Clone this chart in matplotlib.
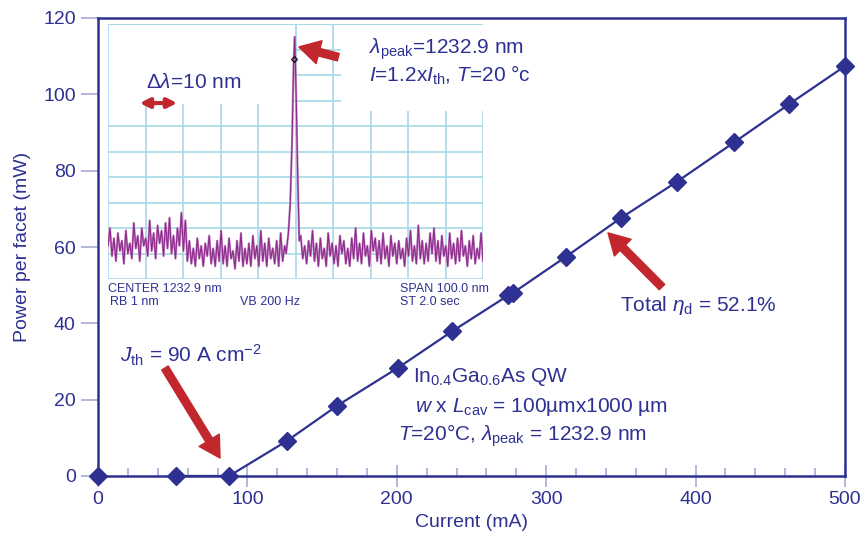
import numpy as np
import matplotlib.pyplot as plt
from matplotlib.patches import Rectangle

plt.rcParams['font.family'] = ['Liberation Sans', 'DejaVu Sans']
plt.rcParams['mathtext.fontset'] = 'custom'
plt.rcParams['mathtext.rm'] = 'Liberation Sans'
plt.rcParams['mathtext.it'] = 'Liberation Sans:italic'

NAVY = '#2e3192'
TICK = '#a9abd6'
RED = '#c1272d'
GRID = '#a6d9e6'
TRACE = '#8e2a8c'

# --- L-I data ---
current_ma = [0, 52, 87.7, 126.5, 160, 201, 237, 274.5, 277.5, 313, 350, 387.5, 425.7, 462.5, 500]
power_mw = [0, 0, 0, 9.2, 18.4, 28.4, 37.9, 47.3, 47.9, 57.4, 67.6, 77.1, 87.4, 97.4, 107.4]

# --- inset spectrum (levels in screen divisions) ---
span_nm = (1182.9, 1282.9)
spec_left = [1.3, 2.0, 0.9, 1.6, 0.7, 1.8, 1.1, 1.5, 0.6, 1.9, 1.0, 1.4, 0.8, 2.2, 1.2,
             1.7, 0.7, 2.0, 1.3, 1.6, 0.9, 2.3, 1.1, 1.8, 0.8, 2.1, 1.4, 1.9, 0.9, 2.2,
             1.2, 2.4, 1.0, 1.7, 0.8, 2.0, 1.3, 2.6, 1.1, 2.3, 0.7, 1.5, 0.6, 1.2, 0.5,
             1.6, 0.8, 1.3, 0.5, 1.4, 0.9, 1.7, 0.6, 1.2, 0.5, 1.5, 0.7, 1.9, 0.6, 1.3,
             0.5, 1.6, 0.8, 1.1, 0.4, 1.5, 0.7, 1.8, 0.5, 1.2, 0.6, 1.4, 0.5, 1.7, 0.8,
             1.3, 0.5, 1.9, 0.7, 1.4, 0.5, 1.6, 0.8, 1.2, 0.6, 1.5, 0.5, 1.8, 0.7, 1.3]
peak_wl = [1230.4, 1231.0, 1231.5, 1232.0, 1232.4, 1232.7, 1233.1, 1233.5, 1233.9]
peak_lvl = [1.0, 1.8, 3.0, 5.5, 8.5, 9.5, 7.0, 4.0, 1.5]
spec_right = [1.7, 0.8, 1.3, 0.6, 1.5, 0.9, 1.9, 0.7, 1.4, 0.5, 1.6, 0.8, 1.2, 0.5, 1.8,
              0.9, 1.4, 0.6, 1.3, 0.5, 1.7, 1.0, 1.5, 0.6, 1.2, 0.5, 1.6, 0.8, 2.0, 0.7,
              1.4, 0.6, 1.8, 0.9, 1.3, 0.5, 1.9, 1.1, 1.6, 0.7, 1.5, 0.6, 1.8, 0.8, 1.3,
              0.5, 1.7, 0.9, 1.4, 0.6, 1.5, 0.8, 1.2, 0.5, 1.6, 0.9, 1.9, 0.7, 1.3, 0.6,
              2.1, 0.8, 1.5, 0.6, 1.4, 0.7, 1.8, 1.0, 2.0, 0.7, 1.5, 0.6, 1.7, 0.9, 1.3,
              0.5, 1.8, 0.8, 1.4, 0.6, 1.6, 0.7, 1.9, 0.9, 1.3, 0.5, 1.5, 0.8, 1.7, 0.6,
              1.2, 0.8, 1.8, 0.7]

W, H = 862, 542
fig = plt.figure(figsize=(W / 100, H / 100), dpi=100)

# --- main axes ---
ax = fig.add_axes([98 / W, 66 / H, 747 / W, 458 / H])
ax.plot(current_ma[1:], power_mw[1:], color=NAVY, lw=1.6, zorder=3)
ax.plot(current_ma, power_mw, 'D', color=NAVY, ms=9, clip_on=False, zorder=4)
ax.set_xlim(0, 500)
ax.set_ylim(0, 120)
ax.set_xticks(range(0, 501, 100))
ax.set_xticks(range(0, 501, 20), minor=True)
ax.set_yticks(range(0, 121, 20))
ax.tick_params(axis='x', which='major', direction='inout', length=16, width=1.2,
               color=TICK, labelcolor=NAVY, labelsize=14, pad=3)
ax.tick_params(axis='x', which='minor', direction='in', length=6, width=1.2, color=TICK)
ax.tick_params(axis='y', direction='out', length=12, width=1.2,
               color=TICK, labelcolor=NAVY, labelsize=14, pad=4)
for sp in ax.spines.values():
    sp.set_color(NAVY)
    sp.set_linewidth(1.8)
ax.set_xlabel('Current (mA)', color=NAVY, fontsize=14, labelpad=4)
ax.set_ylabel('Power per facet (mW)', color=NAVY, fontsize=14, labelpad=9)

tk = dict(color=NAVY, fontsize=15, va='center', ha='left')
ax.text(14.7, 31.7, r'$J_{\rm th}$ = 90 A cm$^{-2}$', **tk)
ax.text(210.8, 25.9, r'In$_{0.4}$Ga$_{0.6}$As QW', **tk)
ax.text(212.2, 18.1, r'$w$ x $L_{\rm cav}$ = 100µmx1000 µm', **tk)
ax.text(200.8, 10.5, r'$T$=20°C, $\lambda_{\rm peak}$ = 1232.9 nm', **tk)
ax.text(349.4, 44.8, r'Total $\eta_{\rm d}$ = 52.1%', **tk)

arrow = dict(facecolor=RED, edgecolor=RED, width=5.5, headwidth=17, headlength=15, shrink=0)
ax.annotate('', xy=(81.7, 4.7), xytext=(44.8, 28.3), arrowprops=arrow, zorder=5)
ax.annotate('', xy=(341.4, 63.7), xytext=(377.5, 49.5), arrowprops=arrow, zorder=5)

# --- inset spectrum ---
ins = fig.add_axes([108 / W, (H - 279) / H, 375 / W, 255 / H])
ins.set_xlim(*span_nm)
ins.set_ylim(0, 10)
ins.axis('off')
ins.patch.set_visible(False)
gx = np.arange(span_nm[0], span_nm[1] + 0.1, 10)
ins.vlines(gx, 0, 10, color=GRID, lw=1.2, zorder=1)
ins.hlines(np.arange(0, 11), span_nm[0], span_nm[1], color=GRID, lw=1.2, zorder=1)
ins.add_patch(Rectangle((1183.3, 6.85), 49.2, 3.1, facecolor='white', edgecolor='none', zorder=2))
ins.add_patch(Rectangle((1244.9, 6.6), 42, 3.35, facecolor='white', edgecolor='none',
                        zorder=2, clip_on=False))
ins.hlines(10, span_nm[0], span_nm[1], color=GRID, lw=1.2, zorder=3)

wl_left = np.linspace(span_nm[0], 1230.0, len(spec_left))
wl_right = np.linspace(1234.3, span_nm[1], len(spec_right))
wl = np.concatenate([wl_left, peak_wl, wl_right])
lvl = np.concatenate([spec_left, peak_lvl, spec_right])
ins.plot(wl, lvl, color='#c58bc4', lw=1.6, zorder=4)
ins.plot(wl, lvl, color=TRACE, lw=0.8, zorder=4)
ins.plot([1232.5], [8.63], 'D', ms=3, mfc='none', mec='black', mew=0.8, zorder=5)

ins.text(1193.0, 7.69, r'$\Delta\lambda$=10 nm', color=NAVY, fontsize=15, va='center', zorder=6)
ins.text(1252.5, 9.0, r'$\lambda_{\rm peak}$=1232.9 nm', color=NAVY, fontsize=15,
         va='center', zorder=6)
ins.text(1252.5, 8.0, r'$I$=1.2x$I_{\rm th}$, $T$=20 °c', color=NAVY, fontsize=15,
         va='center', zorder=6)
ins.annotate('', xy=(1202.1, 6.9), xytext=(1190.6, 6.9), zorder=6, annotation_clip=False,
             arrowprops=dict(arrowstyle='<|-|>', color=RED, lw=3, mutation_scale=14))
ins.annotate('', xy=(1233.8, 9.1), xytext=(1244.3, 8.7), zorder=6, annotation_clip=False,
             arrowprops=arrow)

lk = dict(color=NAVY, fontsize=9, va='center', ha='left')
fig.text(108 / W, 1 - 289 / H, 'CENTER 1232.9 nm', **lk)
fig.text(110 / W, 1 - 302 / H, 'RB 1 nm', **lk)
fig.text(240 / W, 1 - 302 / H, 'VB 200 Hz', **lk)
fig.text(400 / W, 1 - 289 / H, 'SPAN 100.0 nm', **lk)
fig.text(400 / W, 1 - 302 / H, 'ST 2.0 sec', **lk)

fig.savefig('out.png', dpi=100)
